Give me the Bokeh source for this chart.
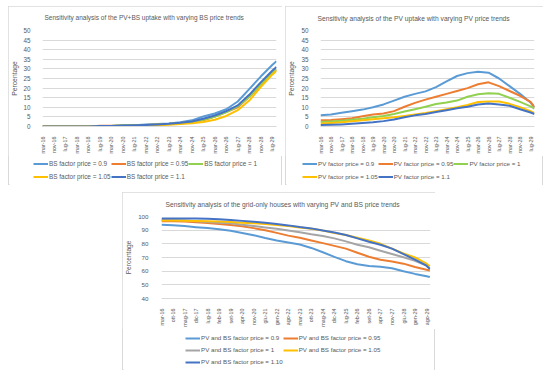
import math
from bokeh.plotting import figure
from bokeh.models import (Range1d, FixedTicker, SingleIntervalTicker, Legend,
                          LegendItem, Spacer)
from bokeh.layouts import row, column
from bokeh.embed import file_html
from bokeh.resources import INLINE

FONT = "Liberation Sans"
TXT = "#595959"
GRID = "#d9d9d9"

# ---------------- data ----------------
# Top charts: month index counted from mar-16, a label every 8 months
TOP_TICK_MONTHS = [0, 8, 16, 24, 32, 40, 48, 56, 64, 72, 80, 88, 96, 104,
                   112, 120, 128, 136, 144, 152, 160]
TOP_TICK_LABELS = ["mar-16", "nov-16", "lug-17", "mar-18", "nov-18", "lug-19",
                   "mar-20", "nov-20", "lug-21", "mar-22", "nov-22", "lug-23",
                   "mar-24", "nov-24", "lug-25", "mar-26", "nov-26", "lug-27",
                   "mar-28", "nov-28", "lug-29"]
TOP_SAMPLE_MONTHS = [0, 8, 16, 24, 32, 40, 48, 56, 64, 72, 80, 88, 96, 104,
                     112, 120, 128, 136, 144, 152, 160, 163]

BS_LABELS = ["BS factor price = 0.9", "BS factor price = 0.95",
             "BS factor price = 1", "BS factor price = 1.05",
             "BS factor price = 1.1"]
BS_090 = [0, 0, 0, 0, 0, 0.2, 0.3, 0.5, 0.6, 1.0, 1.3, 1.6, 2.2, 3.2, 5.2, 6.8,
          9.0, 13.0, 19.5, 26.0, 32.0, 34.0]
BS_095 = [0, 0, 0, 0, 0, 0.4, 0.4, 0.5, 0.6, 0.8, 1.0, 1.3, 1.8, 2.3, 3.2, 5.2,
          7.5, 10.0, 15.5, 21.5, 27.5, 29.5]
BS_100 = [0, 0, 0, 0, 0, 0.2, 0.3, 0.6, 0.6, 0.8, 1.0, 1.3, 1.8, 2.3, 3.5, 5.0,
          7.5, 10.5, 15.5, 22.0, 28.0, 30.0]
BS_105 = [0, 0, 0, 0, 0, 0.1, 0.2, 0.3, 0.4, 0.5, 0.6, 0.9, 1.3, 1.7, 2.4, 3.5,
          5.5, 8.5, 13.5, 20.5, 27.0, 29.0]
BS_110 = [0, 0, 0, 0, 0, 0.2, 0.3, 0.5, 0.6, 0.8, 1.1, 1.4, 1.9, 2.6, 4.0, 5.7,
          8.0, 11.0, 16.5, 23.0, 29.0, 31.0]

PV_LABELS = ["PV factor price = 0.9", "PV factor price = 0.95",
             "PV factor price = 1", "PV factor price = 1.05",
             "PV factor price = 1.1"]
PV_090 = [5.8, 6.3, 7.2, 8.0, 8.8, 10.0, 11.5, 13.5, 15.5, 17.0, 18.3, 20.5,
          23.5, 26.3, 27.8, 28.5, 28.0, 25.0, 21.0, 17.0, 12.5, 10.0]
PV_095 = [3.2, 3.4, 3.8, 4.3, 5.3, 6.2, 6.8, 8.0, 10.3, 12.3, 14.0, 15.5,
          17.0, 18.5, 20.0, 22.0, 23.0, 21.0, 18.5, 16.0, 12.8, 10.0]
PV_100 = [2.3, 2.6, 3.0, 3.5, 4.0, 4.8, 5.5, 6.5, 7.8, 9.0, 10.3, 11.7,
          12.5, 13.5, 15.5, 16.8, 17.3, 17.0, 15.0, 12.8, 10.5, 9.3]
PV_105 = [1.5, 1.8, 2.2, 2.7, 3.2, 3.8, 4.3, 4.8, 5.5, 6.2, 7.0, 8.0,
          9.0, 10.0, 11.2, 12.8, 13.0, 13.0, 11.8, 10.0, 8.0, 7.0]
PV_110 = [0.8, 0.9, 1.1, 1.4, 1.8, 2.2, 2.8, 3.6, 4.8, 5.8, 6.5, 7.5,
          8.5, 9.5, 10.3, 11.5, 12.0, 11.5, 10.8, 9.0, 7.3, 6.5]

# Bottom chart: a label every 7 months
BOT_TICK_MONTHS = [0, 7, 14, 21, 28, 35, 42, 49, 56, 63, 70, 77, 84, 91, 98,
                   105, 112, 119, 126, 133, 140, 147, 154, 161]
BOT_TICK_LABELS = ["mar-16", "ott-16", "mag-17", "dic-17", "lug-18", "feb-19",
                   "set-19", "apr-20", "nov-20", "giu-21", "gen-22", "ago-22",
                   "mar-23", "ott-23", "mag-24", "dic-24", "lug-25", "feb-26",
                   "set-26", "apr-27", "nov-27", "giu-28", "gen-29", "ago-29"]
BOT_SAMPLE_MONTHS = [0, 7, 14, 21, 28, 35, 42, 49, 56, 63, 70, 77, 84, 91, 98,
                     105, 112, 119, 126, 133, 140, 147, 154, 161, 163]

GO_LABELS = ["PV and BS factor price = 0.9", "PV and BS factor price = 0.95",
             "PV and BS factor price = 1", "PV and BS factor price = 1.05",
             "PV and BS factor price = 1.10"]
GO_090 = [94.0, 93.6, 93.0, 92.2, 91.5, 90.7, 89.5, 88.0, 86.3, 84.3, 82.5,
          81.0, 79.5, 77.0, 73.8, 70.5, 67.3, 65.0, 63.7, 63.2, 62.2, 60.0,
          58.0, 56.3, 55.7]
GO_095 = [96.5, 96.5, 96.3, 95.8, 95.2, 94.5, 93.8, 92.8, 91.5, 90.0, 88.0,
          86.0, 84.5, 82.5, 80.5, 78.5, 76.5, 73.5, 70.5, 68.3, 67.0, 65.5,
          63.0, 61.0, 60.5]
GO_100 = [97.5, 97.3, 97.0, 96.5, 96.0, 95.5, 95.0, 94.0, 93.0, 92.0, 91.0,
          89.8, 88.5, 87.0, 85.8, 84.0, 81.8, 79.3, 77.5, 75.0, 72.5, 70.2,
          67.5, 64.0, 62.0]
GO_105 = [97.0, 97.0, 96.8, 96.7, 96.5, 96.3, 96.0, 95.5, 95.0, 94.5, 93.8,
          93.0, 92.0, 91.0, 89.7, 88.0, 86.5, 84.5, 82.5, 80.0, 76.5, 73.0,
          70.0, 65.5, 63.5]
GO_110 = [98.5, 98.5, 98.5, 98.5, 98.3, 98.0, 97.5, 96.8, 96.2, 95.5, 94.5,
          93.5, 92.3, 91.3, 89.7, 88.3, 86.5, 84.0, 81.5, 79.3, 76.5, 72.5,
          68.5, 64.0, 61.5]

TOP_COLORS = ["#5B9BD5", "#ED7D31", "#92D050", "#FFC000", "#4472C4"]
BOT_COLORS = ["#5B9BD5", "#ED7D31", "#A5A5A5", "#FFC000", "#4472C4"]

PANEL_STYLE = {"outline": "1px solid #d9d9d9", "outline-offset": "-1px"}


def make_panel(w, h_plot, h_leg, left, right, top, bottom, xend, ymin, ymax,
               ystep, tick_months, tick_labels, xs, series, labels, colors,
               title, title_offset, title_standoff, title_size,
               tick_size, ylab_size, ytick_standoff, ylab_standoff,
               leg_xy, leg_cols, leg_size, leg_row_h):
    p = figure(width=w, height=h_plot, output_backend="svg",
               toolbar_location=None, title=title,
               x_range=Range1d(0, xend), y_range=Range1d(ymin, ymax),
               min_border_left=left, min_border_right=right,
               min_border_top=top, min_border_bottom=bottom,
               background_fill_color="white", border_fill_color="white",
               outline_line_color=None)
    p.title.align = "left"
    p.title.offset = title_offset
    p.title.standoff = title_standoff
    p.title.vertical_align = "top"
    p.title.text_font = FONT
    p.title.text_font_size = title_size
    p.title.text_font_style = "normal"
    p.title.text_color = TXT

    p.xgrid.visible = False
    p.ygrid.grid_line_color = GRID
    p.ygrid.grid_line_width = 1

    ya = p.yaxis[0]
    ya.ticker = SingleIntervalTicker(interval=ystep)
    ya.axis_line_color = None
    ya.major_tick_line_color = None
    ya.minor_tick_line_color = None
    ya.major_label_text_font = FONT
    ya.major_label_text_font_size = tick_size
    ya.major_label_text_color = TXT
    ya.major_label_standoff = ytick_standoff
    ya.axis_label = "Percentage"
    ya.axis_label_text_font = FONT
    ya.axis_label_text_font_size = ylab_size
    ya.axis_label_text_font_style = "normal"
    ya.axis_label_text_color = TXT
    ya.axis_label_standoff = ylab_standoff

    xa = p.xaxis[0]
    xa.ticker = FixedTicker(ticks=tick_months)
    xa.major_label_overrides = {m: lab for m, lab in zip(tick_months, tick_labels)}
    xa.major_label_orientation = math.pi / 2
    xa.axis_line_color = GRID
    xa.major_tick_line_color = None
    xa.minor_tick_line_color = None
    xa.major_label_text_font = FONT
    xa.major_label_text_font_size = "5.4px"
    xa.major_label_text_color = TXT
    xa.major_label_standoff = 4

    for ys, col in zip(series, colors):
        p.line(xs, ys, line_color=col, line_width=2, line_join="round")

    # legend strip below the plot (its own canvas, shifted by 1px so that
    # its frame is not aligned with the plot frame above it)
    lf = figure(width=w - 2, height=h_leg, output_backend="svg",
                toolbar_location=None, x_range=Range1d(0, 1),
                y_range=Range1d(1000, 1001), x_axis_type=None,
                y_axis_type=None, min_border_left=0, min_border_right=0,
                min_border_top=0, min_border_bottom=0,
                background_fill_color="white", border_fill_color="white",
                outline_line_color=None)
    lf.grid.visible = False
    items = []
    for ys, lab, col in zip(series, labels, colors):
        r = lf.line(xs, ys, line_color=col, line_width=2)
        items.append(LegendItem(label=lab, renderers=[r]))
    leg = Legend(items=items, ncols=leg_cols, orientation="horizontal",
                 location=leg_xy, glyph_width=15,
                 glyph_height=leg_row_h, label_height=leg_row_h,
                 label_standoff=1, spacing=0, padding=0, margin=0,
                 label_text_font=FONT, label_text_font_size=leg_size,
                 label_text_color=TXT, background_fill_alpha=0,
                 border_line_color=None)
    lf.add_layout(leg)
    return column(p, row(Spacer(width=1, height=h_leg), lf), styles=PANEL_STYLE)


panel1 = make_panel(274, 150, 29, 33, 6, 24, 28, 163, 0, 50, 5,
                    TOP_TICK_MONTHS, TOP_TICK_LABELS, TOP_SAMPLE_MONTHS,
                    [BS_090, BS_095, BS_100, BS_105, BS_110], BS_LABELS,
                    TOP_COLORS,
                    "Sensitivity analysis of the PV+BS uptake with varying BS price trends",
                    2, 13.5, "6.5px", "6.3px", "6.8px", 6, 2,
                    (24, 2.5), 3, "6.4px", 13)

panel2 = make_panel(258, 150, 29, 35, 9, 24, 28, 163, 0, 50, 5,
                    TOP_TICK_MONTHS, TOP_TICK_LABELS, TOP_SAMPLE_MONTHS,
                    [PV_090, PV_095, PV_100, PV_105, PV_110], PV_LABELS,
                    TOP_COLORS,
                    "Sensitivity analysis of the PV uptake with varying PV price trends",
                    -3, 14, "6.7px", "6.3px", "6.8px", 6, 3,
                    (16, 2.5), 3, "6.2px", 13)

panel3 = make_panel(313, 137, 41, 35, 5, 24, 27, 163.4, 40, 100, 10,
                    BOT_TICK_MONTHS, BOT_TICK_LABELS, BOT_SAMPLE_MONTHS,
                    [GO_090, GO_095, GO_100, GO_105, GO_110], GO_LABELS,
                    BOT_COLORS,
                    "Sensitivity analysis of the grid-only houses with varying PV and BS price trends",
                    4, 14, "6.7px", "6.2px", "6.6px", 7, 3,
                    (62, 2.3), 2, "6.2px", 12)

layout = column(
    Spacer(width=10, height=6),
    row(Spacer(width=8, height=179), panel1, Spacer(width=3, height=179), panel2),
    Spacer(width=10, height=7),
    row(Spacer(width=122, height=178), panel3),
)

open("out.html", "w").write(file_html(layout, INLINE, title="Sensitivity analysis"))
